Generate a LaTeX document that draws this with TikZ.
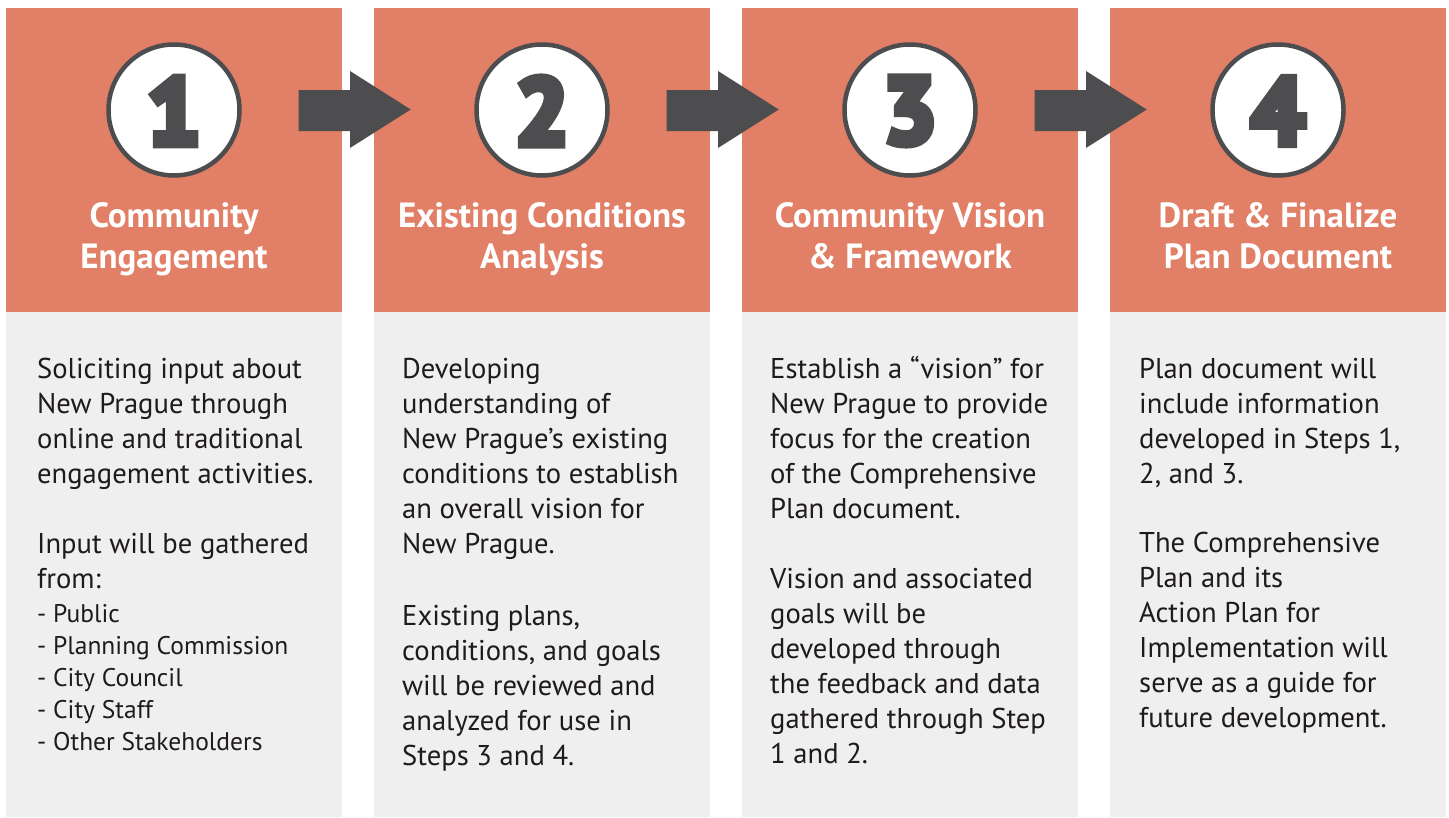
\documentclass[tikz,border=0pt]{standalone}
\usepackage{fontspec}
\setmainfont{PT Sans}
% heavy figures for the step numbers
\newfontfamily\digitfont{PT Sans}[UprightFont={* Bold}, FakeBold=8.5]

\definecolor{salmon}{HTML}{E17F67}
\definecolor{panel}{HTML}{EFEFEF}
\definecolor{ink}{HTML}{4D4D4F}
\definecolor{bodytext}{HTML}{1F1A1B}

% one node per line of body text, placed on its own baseline
% [#1 style] #2 name, #3 x, #4 first baseline, #5 line step, #6 lines
\newcommand\textlines[6][bodyline]{%
  \foreach \line [count=\k] in {#6} {
    \node[#1] (#2-\k) at (#3, #4+#5*\k-#5) {\line};
  }}

\begin{document}
\begin{tikzpicture}[x=1pt, y=-1pt,
  headbox/.style={fill=salmon},
  bodybox/.style={fill=panel},
  stepring/.style={circle, draw=ink, line width=4.5pt, fill=white,
    minimum size=131pt, inner sep=0pt},
  digit/.style={inner sep=0pt, text=ink,
    font=\fontsize{94}{94}\digitfont},
  titleline/.style={anchor=base, inner sep=0pt, text=white,
    font=\fontsize{35}{40}\selectfont\bfseries},
  bodyline/.style={anchor=base west, inner sep=0pt, text=bodytext,
    font=\fontsize{28.6}{35}\selectfont},
  listline/.style={anchor=base west, inner sep=0pt, text=bodytext,
    font=\fontsize{25.5}{32}\selectfont},
  blockarrow/.style={fill=ink}
]
\useasboundingbox (0,0) rectangle (1449,817);
\fill[white] (0,0) rectangle (1449,817);

% four columns: coloured heading block over a grey text panel
\foreach \x in {6,374,742,1110} {
  \fill[headbox] (\x,8) rectangle ++(336,304);
  \fill[bodybox] (\x,312) rectangle ++(336,505);
}

% block arrows between the columns
\foreach \dx in {0,368,736} {
  \fill[blockarrow] (298.7+\dx,90) -- (350+\dx,90) -- (350+\dx,71)
    -- (410.7+\dx,109.5) -- (350+\dx,148) -- (350+\dx,131)
    -- (298.7+\dx,131) -- cycle;
}

% numbered rings
\foreach \n/\cx in {1/174,2/542,3/910,4/1278} {
  \node[stepring] (ring\n) at (\cx,110) {};
  \node[digit] (num\n) at (\cx,111) {\n};
}

% headings
\node[titleline] (h1a) at (174,227) {Community};
\node[titleline] (h1b) at (174,268) {Engagement};
\node[titleline] (h2a) at (542,227) {Existing Conditions};
\node[titleline] (h2b) at (542,268) {Analysis};
\node[titleline] (h3a) at (910,227) {Community Vision};
\node[titleline] (h3b) at (910,268) {\& Framework};
\node[titleline] (h4a) at (1278,227) {Draft \& Finalize};
\node[titleline] (h4b) at (1278,268) {Plan Document};

% step 1
\textlines{s1a}{37}{378}{35}{Soliciting input about, New Prague through,
  online and traditional, engagement activities.}
\textlines{s1b}{37}{553}{35}{Input will be gathered, from:}
\textlines[listline]{s1c}{37}{622}{32}{- Public, - Planning Commission,
  - City Council, - City Staff, - Other Stakeholders}

% step 2
\textlines{s2a}{402}{378}{35}{Developing, understanding of,
  New Prague’s existing, conditions to establish,
  an overall vision for, New Prague.}
\textlines{s2b}{402}{625}{35}{Existing plans{,}, conditions{,} and goals,
  will be reviewed and, analyzed for use in, Steps 3 and 4.}

% step 3
\textlines{s3a}{770}{378}{35}{Establish a “vision” for, New Prague to provide,
  focus for the creation, of the Comprehensive, Plan document.}
\textlines{s3b}{770}{588}{35}{Vision and associated, goals will be,
  developed through, the feedback and data, gathered through Step,
  1 and 2.}

% step 4
\textlines{s4a}{1139}{378}{35}{Plan document will, include information,
  developed in Steps 1{,}, 2{,} and 3.}
\textlines{s4b}{1139}{552}{35}{The Comprehensive, Plan and its,
  Action Plan for, Implementation will, serve as a guide for,
  future development.}
\end{tikzpicture}
\end{document}
